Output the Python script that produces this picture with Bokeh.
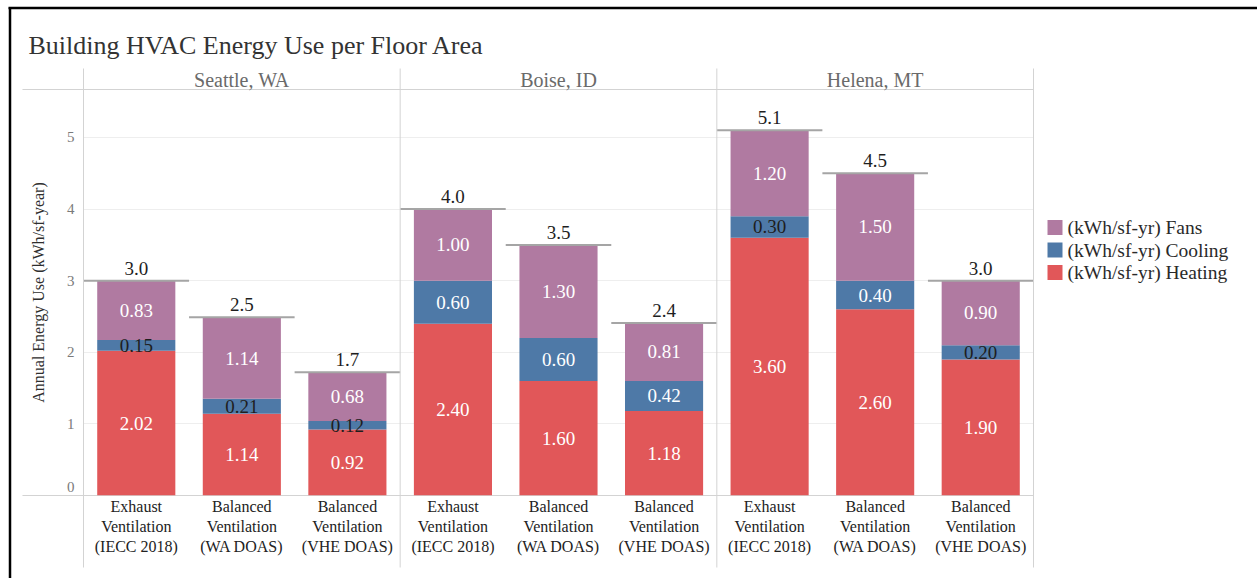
from bokeh.plotting import figure
from bokeh.models import FactorRange, Range1d, FixedTicker, ColumnDataSource
from bokeh.core.properties import value
from bokeh.embed import file_html
from bokeh.resources import INLINE

# ---- data -------------------------------------------------------------
title_text = "Building HVAC Energy Use per Floor Area"
cities = ["Seattle, WA", "Boise, ID", "Helena, MT"]
configs = ["Exhaust\nVentilation\n(IECC 2018)",
           "Balanced\nVentilation\n(WA DOAS)",
           "Balanced\nVentilation\n(VHE DOAS)"]
heating = [2.02, 1.14, 0.92, 2.40, 1.60, 1.18, 3.60, 2.60, 1.90]
cooling = [0.15, 0.21, 0.12, 0.60, 0.60, 0.42, 0.30, 0.40, 0.20]
fans = [0.83, 1.14, 0.68, 1.00, 1.30, 0.81, 1.20, 1.50, 0.90]
series_labels = ["(kWh/sf-yr) Fans", "(kWh/sf-yr) Cooling", "(kWh/sf-yr) Heating"]
y_ticks = [0, 1, 2, 3, 4, 5]
y_label = "Annual Energy Use (kWh/sf-year)"

# ---- style / layout ---------------------------------------------------
FONT = "Liberation Serif"
RED, BLUE, PURPLE = "#E15759", "#4E79A7", "#B07AA1"
DARK = "#1e1e1e"
RULE = "#d3d3d3"
W, H = 1257, 578
FL, FR, FT, FB = 83, 1033, 89, 495     # plot frame edges in page pixels
Y_TOP = 5.67

factors = [(c, k) for c in cities for k in configs]
n = len(factors)


def dx(px):
    """page x pixel -> x coordinate of the categorical scale"""
    return (px - FL) / (FR - FL) * n


def dy(py):
    """page y pixel -> y data coordinate"""
    return (FB - py) / (FB - FT) * Y_TOP


p = figure(width=W, height=H, title=None,
           x_range=FactorRange(factors=factors, group_padding=0,
                               factor_padding=0, range_padding=0),
           y_range=Range1d(0, Y_TOP),
           output_backend="svg", toolbar_location=None,
           min_border_left=FL, min_border_right=W - FR,
           min_border_top=FT, min_border_bottom=H - FB)
p.background_fill_color = "white"
p.border_fill_color = "white"
p.outline_line_color = RULE
p.outline_line_width = 1

# stacked bars
src = ColumnDataSource(dict(x=factors, heating=heating, cooling=cooling, fans=fans))
p.vbar_stack(["heating", "cooling", "fans"], x="x", width=0.74,
             color=[RED, BLUE, PURPLE], line_color=None, source=src)

# segment labels
seg_x, seg_y, seg_t, seg_c = [], [], [], []
for i, f in enumerate(factors):
    base = 0.0
    for vals in (heating, cooling, fans):
        v = vals[i]
        seg_x.append(f)
        seg_y.append(base + v / 2)
        seg_t.append(f"{v:.2f}")
        seg_c.append(DARK if v < 0.35 else "#ffffff")
        base += v
p.text(x=seg_x, y=seg_y, text=seg_t, text_color=seg_c,
       text_font=value(FONT), text_font_size="19px",
       text_align="center", text_baseline="middle")

# totals: reference line across each band + label
totals = [h + c + f for h, c, f in zip(heating, cooling, fans)]
p.vbar(x=factors, width=1.0, top=totals, bottom=totals,
       fill_color=None, line_color="#a5a5a5", line_width=2)
p.text(x=factors, y=totals, text=[f"{t:.1f}" for t in totals],
       text_color=DARK, text_font=value(FONT), text_font_size="19px",
       text_align="center", text_baseline="bottom", y_offset=-6)

# grid
p.xgrid.visible = False
p.ygrid.ticker = FixedTicker(ticks=y_ticks[1:])
p.ygrid.grid_line_color = "#eeeeee"

# y axis; the bottom tick label is lifted clear of the baseline rule
zero_lift = dy(FB - 9)
tick_pos = [t if t > 0 else zero_lift for t in y_ticks]
p.yaxis.ticker = FixedTicker(ticks=tick_pos)
p.yaxis.major_label_overrides = {tp: str(t) for tp, t in zip(tick_pos, y_ticks)}
p.yaxis.axis_line_color = None
p.yaxis.major_tick_line_color = None
p.yaxis.minor_tick_line_color = None
p.yaxis.major_label_text_font = FONT
p.yaxis.major_label_text_font_size = "15px"
p.yaxis.major_label_text_color = "#7a7a7a"
p.yaxis.major_label_standoff = 3
p.yaxis.axis_label = y_label
p.yaxis.axis_label_text_font = FONT
p.yaxis.axis_label_text_font_size = "16px"
p.yaxis.axis_label_text_font_style = "normal"
p.yaxis.axis_label_text_color = "#2e2e2e"
p.yaxis.axis_label_standoff = 17

# x axis (configuration names; city names are drawn as headers above)
p.xaxis.axis_line_color = None
p.xaxis.major_tick_line_color = None
p.xaxis.separator_line_color = None
p.xaxis.major_label_orientation = "horizontal"
p.xaxis.major_label_text_font = FONT
p.xaxis.major_label_text_font_size = "16px"
p.xaxis.major_label_text_color = "#222222"
p.xaxis.major_label_standoff = -4
p.xaxis.group_text_color = None
p.xaxis.group_text_font_size = "1px"

# panel rules extending past the frame
p.segment(x0=[0, 3, 6, 9], x1=[0, 3, 6, 9], y0=dy(68), y1=dy(567),
          line_color=RULE, line_width=1, level="overlay")
p.segment(x0=dx(22), x1=0, y0=[0, Y_TOP], y1=[0, Y_TOP],
          line_color=RULE, line_width=1, level="overlay")

# city headers
p.text(x=cities, y=dy(79), text=cities, text_color="#6a6a6a",
       text_font=value(FONT), text_font_size="20px",
       text_align="center", text_baseline="middle", level="overlay")

# title
p.text(x=[dx(28)], y=[dy(45)], text=[title_text], text_color="#333333",
       text_font=value(FONT), text_font_size="26px",
       text_align="left", text_baseline="middle", level="overlay")

# black frame on left and top edges
p.segment(x0=dx(9.5), x1=dx(9.5), y0=dy(7), y1=dy(H + 5),
          line_color="black", line_width=2.5, level="overlay")
p.segment(x0=dx(8), x1=dx(W + 5), y0=dy(7.5), y1=dy(7.5),
          line_color="black", line_width=2.5, level="overlay")

# legend (colour key) to the right of the frame: 15 px swatches + labels
key_rows = [dy(227), dy(249.5), dy(272)]
p.segment(x0=[dx(1047)] * 3, x1=[dx(1062)] * 3, y0=key_rows, y1=key_rows,
          line_color=[PURPLE, BLUE, RED], line_width=15, line_cap="butt",
          level="overlay")
p.text(x=[dx(1067)] * 3, y=key_rows, text=series_labels, text_color="#2a2a2a",
       text_font=value(FONT), text_font_size="19.5px",
       text_align="left", text_baseline="middle", level="overlay")

open("out.html", "w").write(file_html(p, INLINE))
